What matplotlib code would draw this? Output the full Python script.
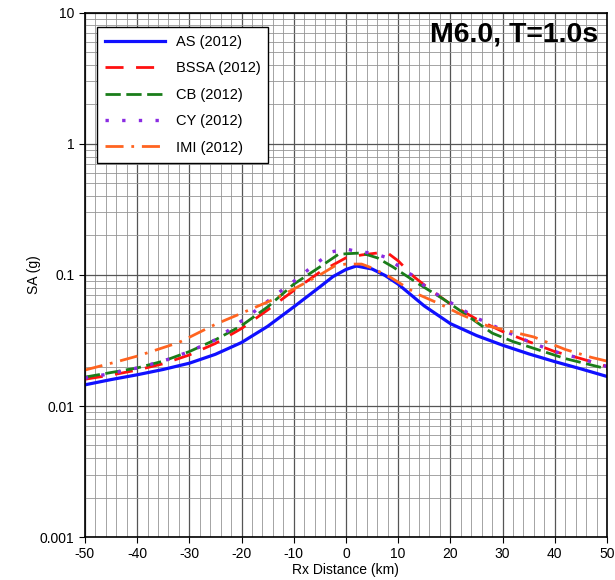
import matplotlib.pyplot as plt
from matplotlib.ticker import FixedLocator, FuncFormatter, LogLocator, NullFormatter
import numpy as np

plt.rcParams['font.family'] = ['Liberation Sans', 'DejaVu Sans']
plt.rcParams['axes.unicode_minus'] = False

# Rx distance (km) and spectral acceleration SA (g)
as_x = [-50, -45, -40, -35, -30, -25, -20, -15, -10, -5, -2.5, 0, 2, 5, 7.5, 10, 15, 20, 25, 30, 35, 40, 45, 50]
as_y = [0.0145, 0.0159, 0.0173, 0.019, 0.0212, 0.0248, 0.0305, 0.0405, 0.057, 0.081, 0.097, 0.110, 0.117,
        0.111, 0.099, 0.085, 0.058, 0.0425, 0.0345, 0.0291, 0.025, 0.0218, 0.0192, 0.0168]

bssa_x = [-50, -45, -40, -35, -30, -25, -20, -15, -10, -5, 0, 3, 6, 8, 10, 13, 16, 20, 25, 30, 35, 40, 45, 50]
bssa_y = [0.016, 0.0172, 0.0188, 0.021, 0.0245, 0.030, 0.039, 0.054, 0.076, 0.105, 0.135, 0.142, 0.147,
          0.147, 0.128, 0.097, 0.078, 0.060, 0.046, 0.037, 0.031, 0.026, 0.023, 0.020]

cb_x = [-50, -45, -40, -35, -30, -25, -20, -15, -10, -5, -1.5, 0, 3, 6, 9, 14, 18.5, 22, 28, 32, 42, 50]
cb_y = [0.0166, 0.018, 0.0195, 0.022, 0.026, 0.032, 0.041, 0.057, 0.085, 0.115, 0.143, 0.145, 0.147,
        0.135, 0.115, 0.085, 0.066, 0.053, 0.036, 0.031, 0.023, 0.0192]

cy_x = [-50, -45, -40, -35, -30, -25, -18.4, -11.7, -9.4, -7.3, -5, -2.7, 0, 2.3, 5.2, 7.9, 10.3, 12.6,
        14.8, 17, 19.3, 25, 30, 35, 40, 45, 50]
cy_y = [0.0163, 0.0177, 0.0195, 0.022, 0.026, 0.032, 0.0495, 0.0795, 0.093, 0.109, 0.128, 0.15, 0.158,
        0.15, 0.147, 0.135, 0.115, 0.100, 0.084, 0.073, 0.064, 0.047, 0.038, 0.031, 0.026, 0.023, 0.020]

imi_x = [-50, -44, -40, -32, -25, -20, -13.5, -10, -5, -2, 0, 3, 5, 8.5, 13.5, 18, 22, 27, 36, 42, 47, 50]
imi_y = [0.0188, 0.0217, 0.024, 0.0305, 0.042, 0.051, 0.066, 0.078, 0.100, 0.118, 0.121, 0.121, 0.113,
         0.096, 0.072, 0.060, 0.050, 0.041, 0.0336, 0.027, 0.0235, 0.022]

x_ticks = [-50, -40, -30, -20, -10, 0, 10, 20, 30, 40, 50]
y_ticks = [0.001, 0.01, 0.1, 1, 10]

fig = plt.figure(figsize=(6.15, 5.8), dpi=100)
ax = fig.add_axes([0.138, 0.074, 0.849, 0.904])

lw = 2.0
ax.plot(as_x, as_y, color='#1010ff', lw=lw + 0.3, label='AS (2012)')
ax.plot(bssa_x, bssa_y, color='#ff1010', lw=lw, dashes=(6.5, 4.5), label='BSSA (2012)')
ax.plot(cb_x, cb_y, color='#1a7d1a', lw=lw, dashes=(5.5, 2.0), label='CB (2012)')
ax.plot(cy_x, cy_y, color='#8a2be2', lw=lw + 0.4, dashes=(1.0, 4.0), label='CY (2012)')
ax.plot(imi_x, imi_y, color='#ff6420', lw=lw, dashes=(6.5, 2.8, 1.0, 2.8), label='IMI (2012)')

ax.set_yscale('log')
ax.set_xlim(-50, 50)
ax.set_ylim(0.001, 10)

ax.xaxis.set_major_locator(FixedLocator(x_ticks))
ax.xaxis.set_minor_locator(FixedLocator(np.arange(-50, 51, 2)))
ax.yaxis.set_major_locator(FixedLocator(y_ticks))
ax.yaxis.set_minor_locator(LogLocator(base=10, subs=np.arange(2, 10)))
ax.yaxis.set_major_formatter(FuncFormatter(lambda v, p: f"{v:g}"))
ax.yaxis.set_minor_formatter(NullFormatter())

ax.grid(which='major', color='#555555', lw=0.9)
ax.grid(which='minor', color='#959595', lw=0.6)
ax.set_axisbelow(True)

ax.tick_params(which='major', direction='out', length=4, labelsize=10)
ax.tick_params(which='minor', length=0)
for s in ax.spines.values():
    s.set_linewidth(1.2)

ax.set_xlabel('Rx Distance (km)', fontsize=10, labelpad=1)
ax.set_ylabel('SA (g)', fontsize=10, labelpad=-1)

ax.text(0.983, 0.983, 'M6.0, T=1.0s', transform=ax.transAxes, ha='right', va='top',
        fontsize=20.5, fontweight='bold')

leg = ax.legend(loc='upper left', bbox_to_anchor=(0.023, 0.973), borderaxespad=0, fontsize=10.5,
                handlelength=4.1, labelspacing=0.85, borderpad=0.55, handletextpad=0.75,
                fancybox=False, framealpha=1)
leg.get_frame().set_edgecolor('black')
leg.get_frame().set_linewidth(1.0)

plt.savefig('out.png', dpi=100)
